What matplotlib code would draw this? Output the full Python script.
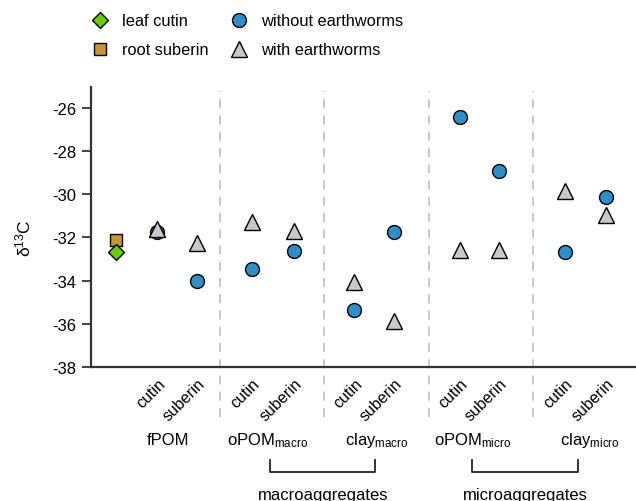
import matplotlib
matplotlib.use("Agg")
import matplotlib.pyplot as plt
from matplotlib.lines import Line2D
from matplotlib import transforms

plt.rcParams['font.family'] = ['Liberation Sans', 'DejaVu Sans']
plt.rcParams['mathtext.fontset'] = 'custom'
plt.rcParams['mathtext.rm'] = 'Liberation Sans'
plt.rcParams['mathtext.it'] = 'Liberation Sans'
plt.rcParams['axes.unicode_minus'] = False

# data (delta 13C, per mille)
fractions = ['fPOM', 'oPOM$_{\\mathrm{macro}}$', 'clay$_{\\mathrm{macro}}$',
             'oPOM$_{\\mathrm{micro}}$', 'clay$_{\\mathrm{micro}}$']
leaf_cutin = -32.7
root_suberin = -32.1
cutin_without = [-31.75, -33.45, -35.35, -26.45, -32.7]
cutin_with = [-31.6, -31.3, -34.05, -32.6, -29.85]
suberin_without = [-34.0, -32.65, -31.75, -28.95, -30.15]
suberin_with = [-32.25, -31.7, -35.85, -32.6, -30.95]
groups = ['macroaggregates', 'microaggregates']

# layout
cutin_x = [0.40, 1.31, 2.29, 3.30, 4.31]
suberin_x = [0.78, 1.71, 2.67, 3.68, 4.70]
label_x = [0.50, 1.46, 2.50, 3.42, 4.55]
bracket_x = [(1.48, 2.49), (3.42, 4.43)]

blue = '#2e8fc7'
grey = '#c8c8c8'
green = '#66cc00'
brown = '#c99533'

fig = plt.figure(figsize=(6.36, 5.02), dpi=100)
ax = fig.add_axes([91 / 636, 134 / 502, 545 / 636, 280 / 502])

mk = dict(linestyle='none', markeredgecolor='black', markeredgewidth=1.0, clip_on=False, zorder=3)
ax.plot([0], [root_suberin], marker='s', markersize=9, color=brown, **mk)
ax.plot([0], [leaf_cutin], marker='D', markersize=8, color=green, **mk)
ax.plot(cutin_x, cutin_without, marker='o', markersize=10, color=blue, **mk)
ax.plot(suberin_x, suberin_without, marker='o', markersize=10, color=blue, **mk)
ax.plot(cutin_x, cutin_with, marker='^', markersize=11, color=grey, **mk)
ax.plot(suberin_x, suberin_with, marker='^', markersize=11, color=grey, **mk)

for xv in [1, 2, 3, 4]:
    ax.axvline(xv, ymin=-0.18, ymax=0.986, color='#c4c4c4', lw=1.3,
               dashes=(5, 4), clip_on=False, zorder=1)

ax.set_xlim(-0.237, 4.99)
ax.set_ylim(-38, -25.04)
ax.set_yticks(range(-38, -25, 2))
ax.set_xticks(cutin_x + suberin_x)
ax.set_xticklabels(['cutin'] * 5 + ['suberin'] * 5, rotation=45, ha='right',
                   va='top', rotation_mode='anchor')
ax.tick_params(axis='x', length=0, pad=6, labelsize=11.5)
ax.tick_params(axis='y', length=6.5, width=1.3, pad=4, labelsize=12, color='#333333')
for s in ['top', 'right']:
    ax.spines[s].set_visible(False)
for s in ['left', 'bottom']:
    ax.spines[s].set_color('#333333')
    ax.spines[s].set_linewidth(1.6)

ax.set_ylabel('δ$^{13}$C', fontsize=12.5)
ax.yaxis.set_label_coords(-0.106, 0.464)

trans = transforms.blended_transform_factory(ax.transData, ax.transAxes)
for xv, name in zip(label_x, fractions):
    ax.text(xv, -0.26, name, transform=trans, ha='center', va='center', fontsize=12)
for (x0, x1), name in zip(bracket_x, groups):
    ax.add_line(Line2D([x0, x0, x1, x1], [-0.332, -0.375, -0.375, -0.332],
                       transform=trans, color='#222222', lw=1.3, clip_on=False))
    ax.text((x0 + x1) / 2, -0.454, name, transform=trans, ha='center', va='center', fontsize=12)

handles = [
    Line2D([], [], marker='D', markersize=8, color=green, markeredgecolor='black', linestyle='none'),
    Line2D([], [], marker='s', markersize=9, color=brown, markeredgecolor='black', linestyle='none'),
    Line2D([], [], marker='o', markersize=10, color=blue, markeredgecolor='black', linestyle='none'),
    Line2D([], [], marker='^', markersize=11, color=grey, markeredgecolor='black', linestyle='none'),
]
labels = ['leaf cutin', 'root suberin', 'without earthworms', 'with earthworms']
fig.legend(handles, labels, ncol=2, frameon=False, fontsize=11.8,
           loc='upper left', bbox_to_anchor=(76 / 636, 1 - 3 / 502),
           handlelength=1.5, handletextpad=0.6, columnspacing=1.1, labelspacing=0.85,
           borderpad=0.2)

fig.savefig('out.png', dpi=100)
